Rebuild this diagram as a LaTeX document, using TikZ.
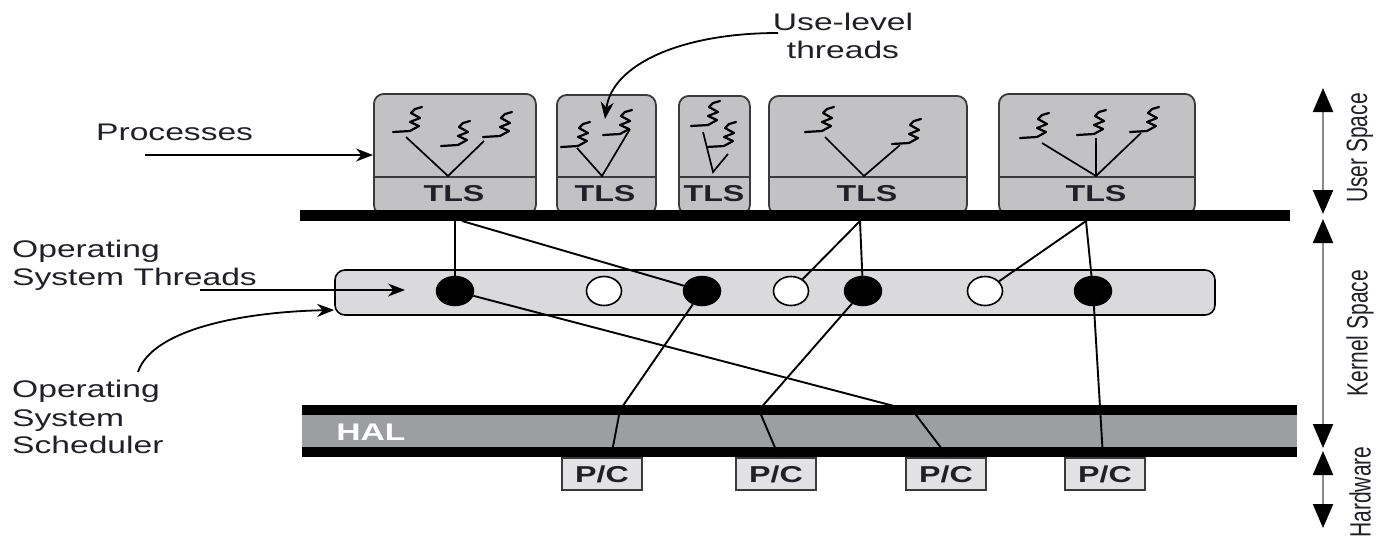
\documentclass[tikz,border=0pt]{standalone}
\usepackage{fontspec}
\setmainfont{Liberation Sans}
\usepackage{graphicx}
\usetikzlibrary{arrows.meta,shapes.geometric}
\definecolor{procfill}{HTML}{C2C2C4}
\definecolor{boxedge}{HTML}{3A3A3A}
\definecolor{kfill}{HTML}{DADADC}
\definecolor{halgray}{HTML}{9D9EA2}
\definecolor{pcfill}{HTML}{E2E2E4}
\definecolor{txt}{HTML}{202028}
\definecolor{arrowgray}{HTML}{8A8A8A}
\newcommand{\wx}[1]{\scalebox{1.4}[1]{#1}}
\newcommand{\wy}[1]{\scalebox{1}[1.4]{#1}}
\tikzset{
  proc/.style={draw=boxedge, fill=procfill, line width=1.8pt, rounded corners=10pt, inner sep=0pt, anchor=north west},
  thrline/.style={line width=2.2pt, line join=round, line cap=round},
  thr/.pic={\draw[thrline] (-17,1) -- (0,0) -- (9,-5) -- (0,-9) -- (10,-13) -- (1,-18) -- (5,-22) -- (12,-24);},
  vline/.style={line width=1.7pt},
  tls/.style={font=\fontsize{23}{26}\selectfont\bfseries, text=txt, inner sep=0pt},
  lbl/.style={font=\fontsize{24}{28}\selectfont, text=txt, inner sep=0pt, anchor=base west},
  bth/.style={ellipse, draw=black, fill=black, line width=1.5pt, minimum width=37pt, minimum height=29pt, inner sep=0pt},
  wth/.style={ellipse, draw=black, fill=white, line width=1.6pt, minimum width=35pt, minimum height=29pt, inner sep=0pt},
  link/.style={line width=1.9pt},
  pcbox/.style={draw=boxedge, fill=pcfill, line width=1.8pt, minimum width=80pt, minimum height=32pt, inner sep=0pt, font=\fontsize{23}{26}\selectfont\bfseries, text=txt},
  ptr/.style={line width=1.8pt, -{Stealth[length=17pt,width=13pt]}},
  sidearrow/.style={draw=arrowgray, line width=2.2pt, arrows={Triangle[length=24pt,width=20pt,color=black]-Triangle[length=24pt,width=20pt,color=black]}},
  side/.style={font=\fontsize{21}{24}\selectfont, text=txt, rotate=90, inner sep=0pt}
}
\begin{document}
\begin{tikzpicture}[x=1pt,y=-1pt]
\useasboundingbox (0,0) rectangle (1381,544);

% processes
\node[proc, minimum width=162pt, minimum height=121pt] (p1) at (373,93) {};
\node[proc, minimum width=99pt, minimum height=120pt] (p2) at (556,94) {};
\node[proc, minimum width=71pt, minimum height=119pt] (p3) at (678,95) {};
\node[proc, minimum width=198pt, minimum height=119pt] (p4) at (768,95) {};
\node[proc, minimum width=196pt, minimum height=121pt] (p5) at (998,93) {};
\foreach \a/\b in {373/535,556/655,678/749,768/966,998/1194}
  \draw[boxedge, line width=1.5pt] (\a,177) -- (\b,177);
\node[tls] (t1) at (454,194) {\wx{TLS}};
\node[tls] (t2) at (605,194) {\wx{TLS}};
\node[tls] (t3) at (714,194) {\wx{TLS}};
\node[tls] (t4) at (867,194) {\wx{TLS}};
\node[tls] (t5) at (1096,194) {\wx{TLS}};

% user-level threads
\pic at (410,131) {thr}; \pic at (458,145) {thr}; \pic at (500,136) {thr};
\draw[vline] (406,137) -- (448,176) -- (484,141);
\pic at (578,146) {thr}; \pic at (620,134) {thr};
\draw[vline] (577,148) -- (602,176) -- (630,129);
\pic at (708,125) {thr}; \pic at (724,146) {thr};
\draw[vline] (703,132) -- (713,172) -- (728,154);
\pic at (822,131) {thr}; \pic at (909,143) {thr};
\draw[vline] (825,137) -- (864,176) -- (900,145);
\pic at (1037,137) {thr}; \pic at (1094,134) {thr}; \pic at (1147,131) {thr};
\draw[vline] (1042,143) -- (1096,176) -- (1141,133);
\draw[vline] (1096,138) -- (1096,176);

% user/kernel bar
\fill[black] (300,210) rectangle (1290,221);

% kernel band
\node[draw=black, fill=kfill, line width=1.6pt, rounded corners=10pt, minimum width=880pt, minimum height=45pt, inner sep=0pt] (kb) at (775,292.5) {};

% OS threads
\node[bth] (b1) at (455,291) {};
\node[wth] (w1) at (604,291) {};
\node[bth] (b2) at (702,291) {};
\node[wth] (w2) at (791,291) {};
\node[bth] (b3) at (863,291) {};
\node[wth] (w3) at (985,291) {};
\node[bth] (b4) at (1093,291) {};

% HAL
\fill[halgray] (302,405) rectangle (1297,457);
\fill[black] (302,405) rectangle (1297,415);
\fill[black] (302,447) rectangle (1297,457);
\node[font=\fontsize{24}{28}\selectfont\bfseries, text=white, inner sep=0pt] (hal) at (371,432) {\wx{HAL}};

% processors
\node[pcbox, anchor=north] (pc1) at (602,457) {\wx{P/C}};
\node[pcbox, anchor=north] (pc2) at (776,457) {\wx{P/C}};
\node[pcbox, anchor=north] (pc3) at (946,457) {\wx{P/C}};
\node[pcbox, anchor=north] (pc4) at (1105,457) {\wx{P/C}};

% connectors
\coordinate (u1) at (455,221);
\coordinate (u2) at (462,221);
\coordinate (u3) at (860,221);
\coordinate (u4) at (1086,221);
\draw[link] (u1) -- (b1);
\draw[link] (u2) -- (b2);
\draw[link] (u3) -- (w2);
\draw[link] (u3) -- (b3);
\draw[link] (u4) -- (w3);
\draw[link] (u4) -- (b4);
\coordinate (k1) at (913,411);
\coordinate (k2) at (620,410);
\coordinate (k3) at (759,410);
\draw[link] (b1) -- (k1) -- ([xshift=2pt]pc3.north);
\draw[link] (b2) -- (k2) -- ([xshift=9pt]pc1.north);
\draw[link] (b3) -- (k3) -- ([xshift=3pt]pc2.north);
\draw[link] (b4) -- ([xshift=-2pt]pc4.north);

% left labels and pointers
\node[lbl] (lproc) at (96,140) {\wx{Processes}};
\coordinate (aproc) at (145,155);
\draw[ptr] (aproc) -- (p1.west |- aproc);
\node[lbl] (lost1) at (12,257) {\wx{Operating}};
\node[lbl] (lost2) at (12,285) {\wx{System Threads}};
\coordinate (aost) at (200,290);
\coordinate (aostend) at (405,290);
\draw[ptr] (aost) -- (aostend);
\node[lbl] (lsch1) at (12,397) {\wx{Operating}};
\node[lbl] (lsch2) at (12,426) {\wx{System}};
\node[lbl] (lsch3) at (12,453) {\wx{Scheduler}};
\coordinate (asch) at (138,372);
\draw[ptr] (asch) .. controls (152,330) and (240,312) .. (kb.west |- 0,310);
\node[font=\fontsize{24}{28}\selectfont, text=txt, inner sep=0pt, anchor=base] (lul1) at (843,30) {\wx{Use-level}};
\node[font=\fontsize{24}{28}\selectfont, text=txt, inner sep=0pt, anchor=base] (lul2) at (843,58) {\wx{threads}};
\coordinate (aul) at (778,33);
\coordinate (aulend) at (605,119);
\draw[ptr] (aul) .. controls (680,33) and (612,65) .. (aulend);

% right side scale
\coordinate (us1) at (1323,88);  \coordinate (us2) at (1323,214);
\coordinate (ks1) at (1323,219); \coordinate (ks2) at (1323,448);
\coordinate (hw1) at (1323,451); \coordinate (hw2) at (1323,528);
\draw[sidearrow] (us1) -- (us2);
\draw[sidearrow] (ks1) -- (ks2);
\draw[sidearrow] (hw1) -- (hw2);
\node[side] (lus) at (1360,148) {\wy{User Space}};
\node[side] (lks) at (1360,333) {\wy{Kernel Space}};
\node[side] (lhw) at (1360,492) {\wy{Hardware}};
\end{tikzpicture}
\end{document}
